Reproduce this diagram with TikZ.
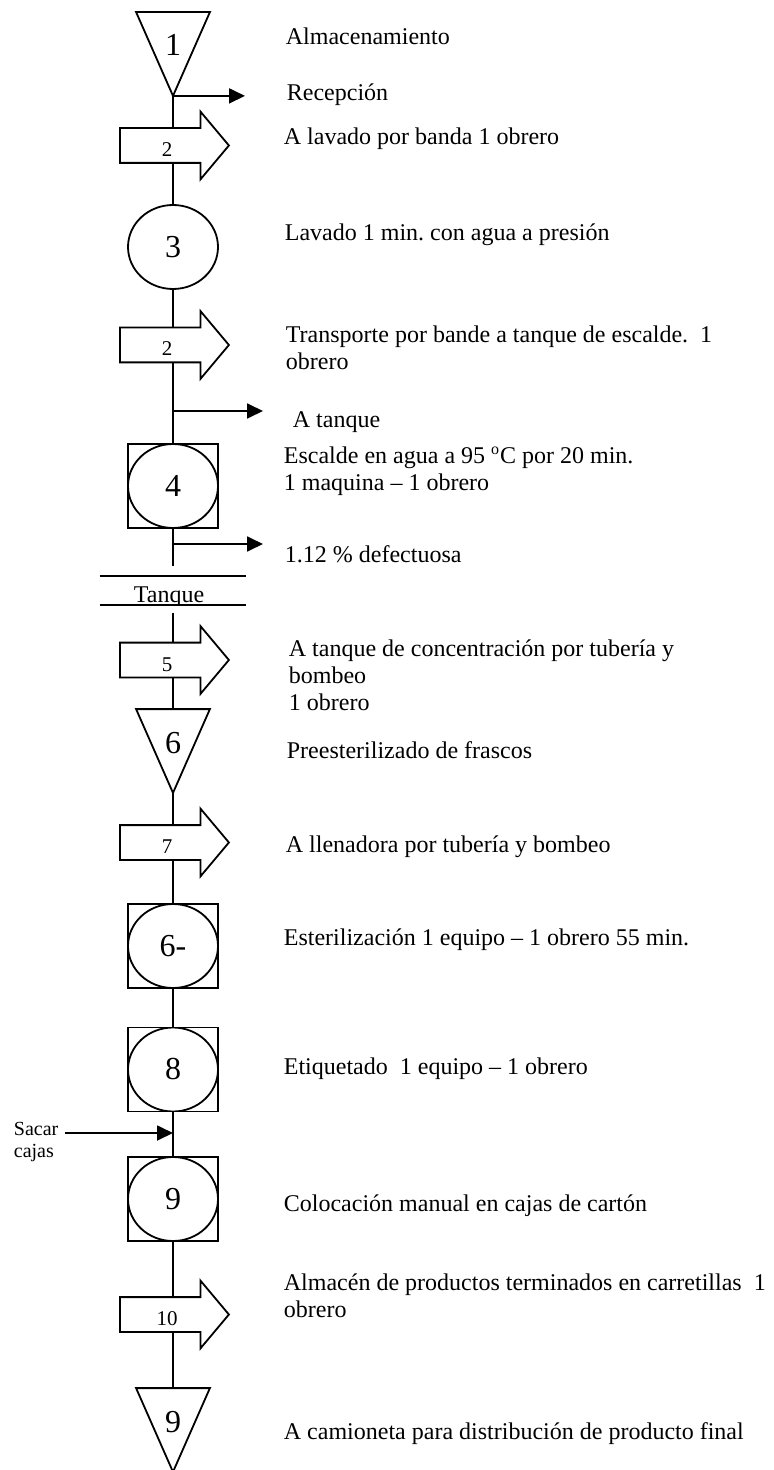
\documentclass[tikz,border=0pt]{standalone}
\usepackage{fontspec}
\setmainfont{Liberation Serif}
\frenchspacing
\usetikzlibrary{calc, positioning, arrows.meta, shapes.geometric, shapes.arrows}

\begin{document}
\begin{tikzpicture}[x=0.5pt, y=-0.5pt, line width=0.9pt,
        storage/.style={minimum width=36pt, minimum height=41pt, inner sep=0pt, text height=12pt, text depth=10pt, font=\fontsize{16}{16}\selectfont},
        operation/.style={draw, ellipse, minimum width=45pt, minimum height=42pt, inner sep=0pt, font=\fontsize{16}{16}\selectfont},
        combined/.style={draw, rectangle, minimum width=45pt, minimum height=42pt, inner sep=0pt, font=\fontsize{16}{16}\selectfont,
            path picture={\draw (path picture bounding box.center) ellipse [x radius=22.5pt, y radius=21pt];}},
        transport/.style={draw, single arrow, anchor=tail, single arrow head extend=8.25pt, single arrow tip angle=100, minimum height=54.5pt,
            inner xsep=2pt, inner ysep=0pt, text height=13.75pt, text depth=2.75pt, font=\fontsize{10.5}{10.5}\selectfont},
        tankbox/.style={minimum width=72.5pt, minimum height=13.5pt, inner sep=0pt},
        flow/.style={-{Triangle[length=8pt, width=7.5pt]}},
        note/.style={anchor=base west, inner sep=0pt, align=left, font=\fontsize{12}{13.5}\selectfont}]
    \useasboundingbox (0,0) rectangle (774,1470);

    % symbols on the main line
    \node[storage] (st1) at (173,54) {1};
    \node[transport] (tr2a) at (119,145.5) {2};
    \node[operation] (op3) at (173,247) {3};
    \node[transport] (tr2b) at (119,345) {2};
    \node[combined] (op4) at (173,486) {4};
    \node[tankbox] (tank) at (173,590.5) {};
    \node[transport] (tr5) at (119,660) {5};
    \node[storage] (st6) at (173,751) {6};
    \node[transport] (tr7) at (119,842.5) {7};
    \node[combined] (op6) at (173,946) {6-};
    \node[combined] (op8) at (173,1069.5) {8};
    \node[combined] (op9) at (173,1199) {9};
    \node[transport] (tr10) at (119,1314.5) {10};
    \node[storage] (st9) at (173,1430) {9};

    % storage triangles
    \foreach \s in {st1,st6,st9}
        \draw (\s.north west) -- (\s.north east) -- (\s.south) -- cycle;

    % tank
    \begin{scope}
        \clip (tank.north west) rectangle (tank.south east);
        \node[anchor=base, inner sep=0pt, font=\fontsize{12}{12}\selectfont] (tanklab) at ([xshift=-2pt, yshift=1pt]tank.south) {Tanque};
    \end{scope}
    \draw (tank.north west) -- (tank.north east) (tank.south west) -- (tank.south east);
    \coordinate (tkin) at ([yshift=5pt]tank.north);
    \coordinate (tkout) at ([yshift=-4pt]tank.south);

    % main line
    \foreach \a/\b in {st1.south/st1.south |- tr2a.90, tr2a.270 -| op3/op3, op3/tr2b.90 -| op3, tr2b.270 -| op4/op4, op4/tkin,
                       tkout/tkout |- tr5.90, tr5.270 -| st6/st6, st6.south/st6.south |- tr7.90, tr7.270 -| op6/op6,
                       op6/op8, op8/op9, op9/tr10.90 -| op9, tr10.270 -| st9/st9}
        \draw (\a) -- (\b);

    % side arrows
    \coordinate (j1) at (173,411);
    \coordinate (j2) at (173,544);
    \coordinate (j3) at (173,1133);
    \coordinate (o1) at ([xshift=36pt]st1.south);
    \coordinate (o2) at ([xshift=45pt]j1);
    \coordinate (o3) at ([xshift=45pt]j2);
    \draw[flow] (st1.south) -- (o1);
    \draw[flow] (j1) -- (o2);
    \draw[flow] (j2) -- (o3);

    \node[note, font=\fontsize{10}{11}\selectfont] (sacar) at (13,1157) {Sacar\\cajas};
    \draw[flow] ([xshift=3pt]sacar.east |- j3) -- (j3);

    % descriptions (y = baseline of the last line)
    \foreach \n/\x/\y/\txt in {alm/285/45/{Almacenamiento},
                               rec/286/101/{Recepción},
                               lav/283/145/{A lavado por banda 1 obrero},
                               lvd/284/241/{Lavado 1 min. con agua a presión},
                               tra/285/370/{Transporte por bande a tanque de escalde.\ \ 1\\obrero},
                               atq/292/428/{A tanque},
                               esc/283/490/{Escalde en agua a 95 \textsuperscript{o}C por 20 min.\\1 maquina – 1 obrero},
                               def/284/562/{1.12 \% defectuosa},
                               con/288/710/{A tanque de concentración por tubería y\\bombeo\\1 obrero},
                               pre/286/758/{Preesterilizado de frascos},
                               lle/285/852/{A llenadora por tubería y bombeo},
                               est/283/945/{Esterilización 1 equipo – 1 obrero 55 min.},
                               eti/283/1074/{Etiquetado\ \ 1 equipo – 1 obrero},
                               col/283/1211/{Colocación manual en cajas de cartón},
                               alp/283/1317/{Almacén de productos terminados en carretillas\ \ 1\\obrero},
                               cam/283/1439/{A camioneta para distribución de producto final}}
        \node[note] (note-\n) at (\x,\y) {\txt};
\end{tikzpicture}
\end{document}
